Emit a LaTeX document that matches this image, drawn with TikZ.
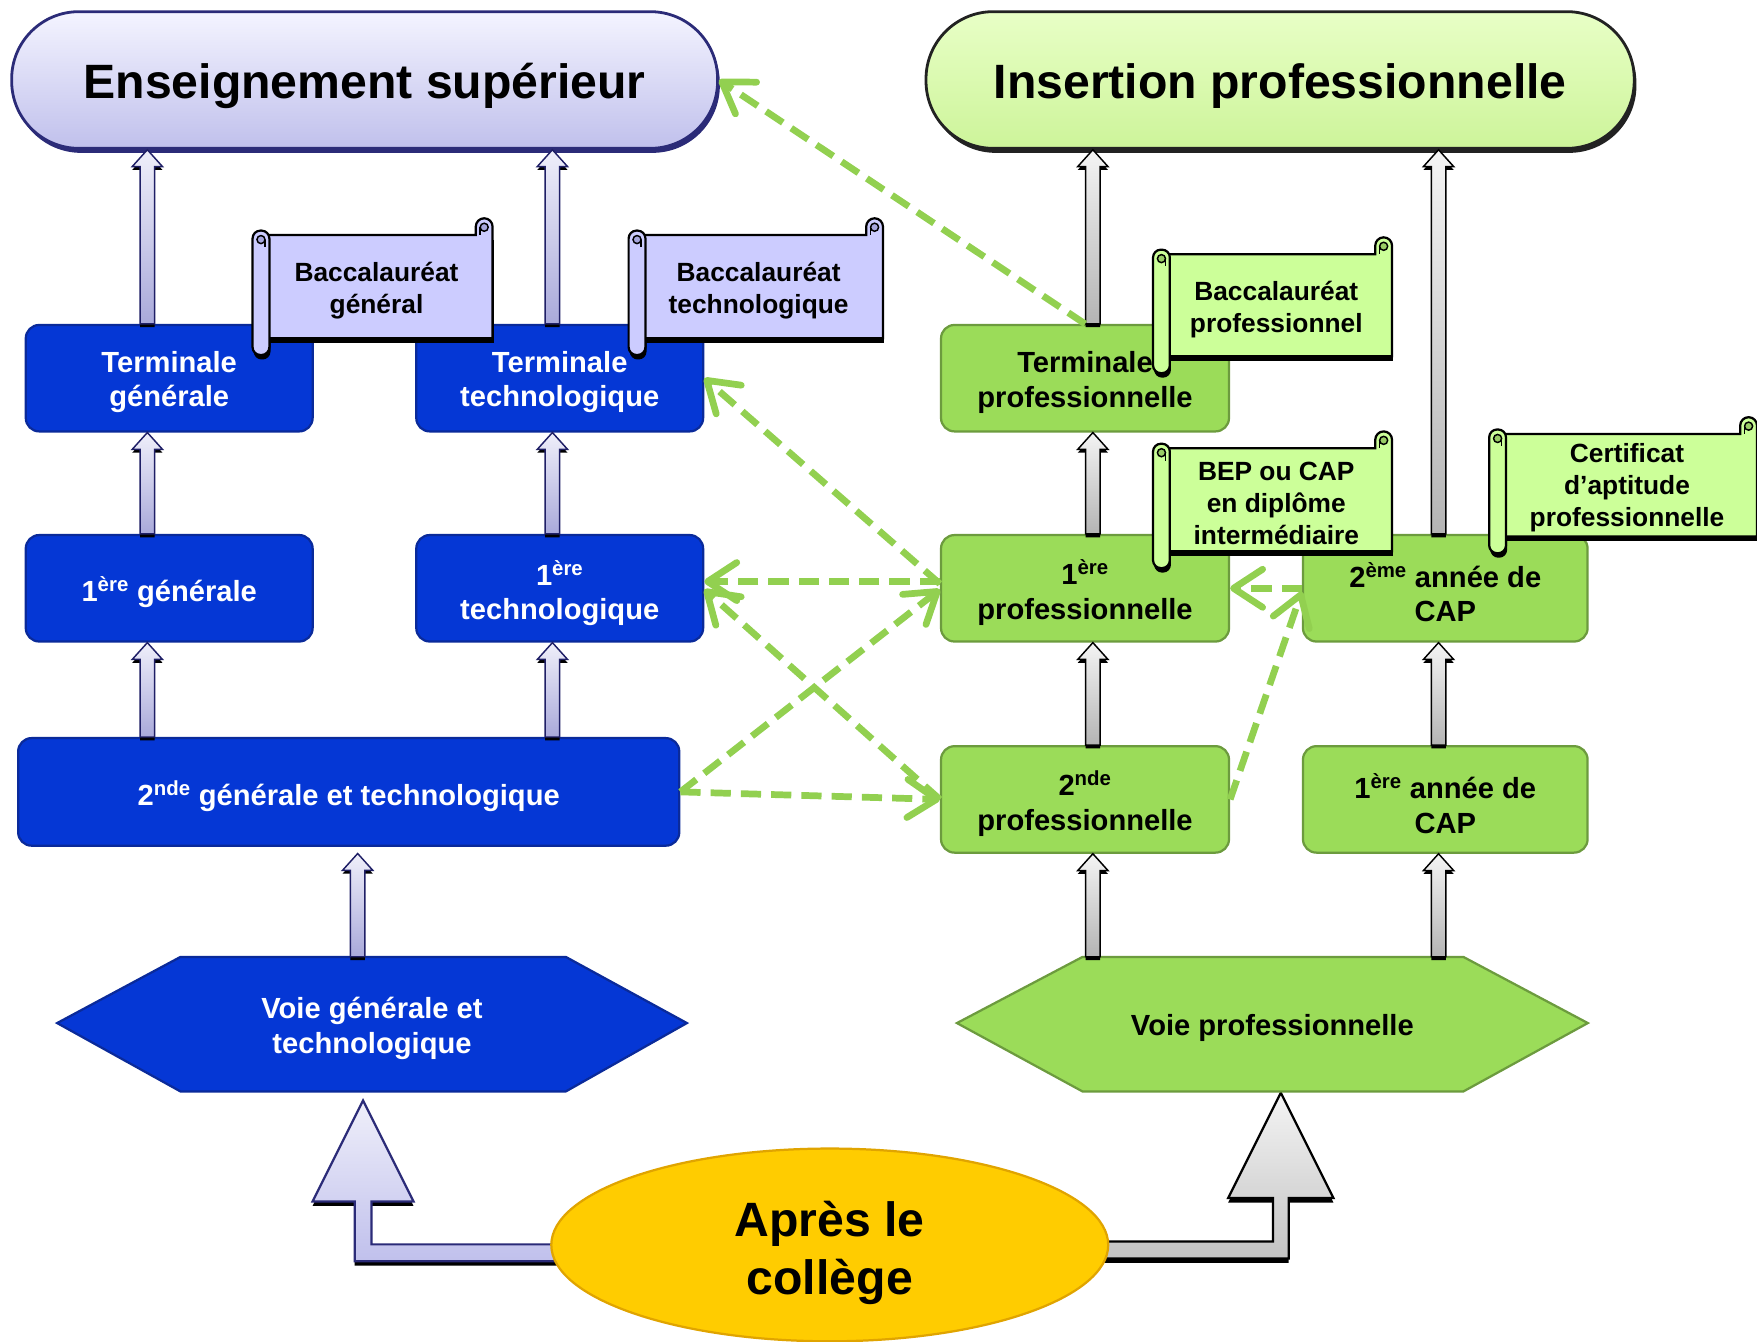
\documentclass[tikz,border=0pt]{standalone}
\usepackage{fontspec}
\setmainfont{Liberation Sans}
\usetikzlibrary{calc,arrows.meta,shapes.geometric,backgrounds}

\definecolor{boxblue}{HTML}{0537D5}
\definecolor{boxblueD}{HTML}{0A2A9A}
\definecolor{boxgreen}{HTML}{9BDC59}
\definecolor{boxgreenD}{HTML}{6C9B3E}
\definecolor{dashgreen}{HTML}{92D050}
\definecolor{scrLav}{HTML}{CCCCFF}
\definecolor{curlLav}{HTML}{A6A6DD}
\definecolor{scrGrn}{HTML}{CCFF99}
\definecolor{curlGrn}{HTML}{99CC66}
\definecolor{pillLT}{HTML}{F4F4FF}
\definecolor{pillLB}{HTML}{C0C0EC}
\definecolor{pillLD}{HTML}{2B2B78}
\definecolor{pillGT}{HTML}{E8FFC6}
\definecolor{pillGB}{HTML}{CDF49A}
\definecolor{pillGD}{HTML}{222222}
\definecolor{egg}{HTML}{FFCC00}
\definecolor{eggD}{HTML}{E0A400}
\definecolor{arrLT}{HTML}{EFEFFA}
\definecolor{arrLB}{HTML}{A9A9DA}
\definecolor{arrLD}{HTML}{1F1F66}
\definecolor{arrGT}{HTML}{F4F4F4}
\definecolor{arrGB}{HTML}{B4B4B4}

\newcommand\ttlfont{\fontsize{43pt}{52pt}\selectfont\bfseries}
\newcommand\bxfont{\fontsize{26pt}{31pt}\selectfont\bfseries}
\newcommand\scrlfont{\fontsize{23.5pt}{28.5pt}\selectfont\bfseries}
% lower one line of text inside its box, keeping the box size
\newcommand\dn[2][3.5pt]{\raisebox{-#1}[\height][\depth]{#2}}

% small vertical block arrow: #1 style, #2 start (x and y), #3 end (y only)
\newcommand\blkarrow[3]{%
  \fill[black] let \p1=#2, \p2=#3 in
    (\x1-6.5pt,\y1-3pt) -- (\x1-6.5pt,\y2-18pt) -- (\x1-13.5pt,\y2-18pt) -- (\x1,\y2-3pt)
    -- (\x1+13.5pt,\y2-18pt) -- (\x1+6.5pt,\y2-18pt) -- (\x1+6.5pt,\y1-3pt) -- cycle;
  \path[#1] let \p1=#2, \p2=#3 in
    (\x1-6.5pt,\y1) -- (\x1-6.5pt,\y2-15pt) -- (\x1-13.5pt,\y2-15pt) -- (\x1,\y2)
    -- (\x1+13.5pt,\y2-15pt) -- (\x1+6.5pt,\y2-15pt) -- (\x1+6.5pt,\y1) -- cycle;}

% horizontal scroll: #1 L, #2 T, #3 R, #4 B, #5 fill, #6 curl colour
\newcommand\scrollshape[6]{%
  \fill[black] (#1+9.5,#2+19) -- (#3+1,#2+19) -- (#3+1,#4-11) -- (#1+9.5,#4-11) -- cycle;
  \fill[black, rounded corners=7pt] (#1+1,#2+16) rectangle (#1+16,#4+4);
  \filldraw[fill=#5, draw=black, line width=2pt]
    (#1+7.5,#2+15) -- (#3-15,#2+15) -- (#3-15,#2+7.5)
    arc[start angle=180, end angle=0, radius=7.5pt] -- (#3,#4-15) -- (#1+7.5,#4-15) -- cycle;
  \filldraw[fill=#6, draw=black, line width=1.3pt] (#3-7.5,#2+8) circle[radius=3.6pt];
  \draw[black, line width=1.3pt] (#3-11.1,#2+8) -- (#3-11.1,#2+15);
  \filldraw[fill=#5, draw=black, line width=2pt, rounded corners=7pt] (#1,#2+11) rectangle (#1+15,#4);
  \filldraw[fill=#6, draw=black, line width=1.3pt] (#1+7.5,#2+19) circle[radius=3.6pt];
  \draw[black, line width=1.3pt] (#1+11.1,#2+19) -- (#1+11.1,#2+26);
}

\begin{document}
\begin{tikzpicture}[x=1pt,y=-1pt,
  bluebox/.style={rectangle, rounded corners=12pt, fill=boxblue, draw=boxblueD, line width=2pt,
    text=white, font=\bxfont, align=center, inner sep=0pt, minimum width=256pt, minimum height=95pt},
  greenbox/.style={bluebox, fill=boxgreen, draw=boxgreenD, text=black},
  pillL/.style={rectangle, rounded corners=60pt, minimum width=630pt, minimum height=122pt,
    top color=pillLT, bottom color=pillLB, draw=pillLD, line width=2.5pt, font=\ttlfont, inner sep=0pt},
  pillG/.style={pillL, top color=pillGT, bottom color=pillGB, draw=pillGD, minimum width=632pt},
  scrtext/.style={font=\scrlfont, align=center, inner sep=0pt, text=black, yshift=-3.5pt},
  hexnode/.style={minimum width=562pt, minimum height=120pt, font=\bxfont, align=center, inner sep=0pt},
  lavarr/.style={top color=arrLT, bottom color=arrLB, draw=arrLD, line width=1.3pt},
  grayarr/.style={top color=arrGT, bottom color=arrGB, draw=black, line width=1.3pt},
  garrow/.style={draw=dashgreen, line width=6pt, dash pattern=on 18pt off 9pt,
    -{Straight Barb[length=26pt, width=34pt, round]}},
]
\useasboundingbox (0,0) rectangle (1568,1197);

% ---- top pills
\fill[pillLD, rounded corners=60pt] (12.3,14.4) rectangle (642.4,136.4);
\node[pillL] (es) at (325.4,71.4) {\dn[5pt]{Enseignement supérieur}};
\fill[pillGD, rounded corners=60pt] (828.5,14.4) rectangle (1460.4,136.4);
\node[pillG] (ip) at (1142.4,71.4) {\dn[5pt]{Insertion professionnelle}};

% ---- blue column
\node[bluebox] (tg) at (151,337.5) {\dn{Terminale}\\\dn{générale}};
\node[bluebox] (tt) at (499.5,337.5) {\dn{Terminale}\\\dn{technologique}};
\node[bluebox] (1g) at (151,525) {\dn{1\textsuperscript{ère} générale}};
\node[bluebox] (1t) at (499.5,525) {\dn[5pt]{1\textsuperscript{ère}}\\\dn{technologique}};
\node[bluebox, minimum width=590pt, minimum height=96pt] (2g) at (311.2,706.7) {\dn{2\textsuperscript{nde} générale et technologique}};

% ---- green column
\node[greenbox, minimum width=257pt] (tp) at (968.3,337.5) {\dn{Terminale}\\\dn{professionnelle}};
\node[greenbox, minimum width=257pt] (1p) at (968.3,525) {\dn{1\textsuperscript{ère}}\\\dn{professionnelle}};
\node[greenbox, minimum width=257pt] (2p) at (968.3,713.4) {\dn{2\textsuperscript{nde}}\\\dn{professionnelle}};
\node[greenbox, minimum width=254pt] (2c) at (1289.8,525) {\dn{2\textsuperscript{ème} année de}\\\dn{CAP}};
\node[greenbox, minimum width=254pt] (1c) at (1289.8,713.4) {\dn{1\textsuperscript{ère} année de}\\\dn{CAP}};

% ---- hexagons
\filldraw[fill=boxblue, draw=boxblueD, line width=2pt]
  (51,913) -- (161,854) -- (505,854) -- (613,913) -- (505,974) -- (161,974) -- cycle;
\node[hexnode, text=white] (hexG) at (332,914) {\dn{Voie générale et}\\\dn{technologique}};
\filldraw[fill=boxgreen, draw=boxgreenD, line width=2pt]
  (854,913) -- (966,854) -- (1306,854) -- (1417,913) -- (1306,974) -- (966,974) -- cycle;
\node[hexnode, text=black] (hexP) at (1135.5,914) {\dn{Voie professionnelle}};

% ---- small block arrows (left)
\blkarrow{lavarr}{([xshift=-19.5pt]tg.north)}{(es.south)}
\blkarrow{lavarr}{([xshift=-6.5pt]tt.north)}{(es.south)}
\blkarrow{lavarr}{([xshift=-19.5pt]1g.north)}{(tg.south)}
\blkarrow{lavarr}{([xshift=-6.5pt]1t.north)}{(tt.south)}
\blkarrow{lavarr}{([xshift=-19.5pt]1g.south |- 2g.north)}{(1g.south)}
\blkarrow{lavarr}{([xshift=-6.5pt]1t.south |- 2g.north)}{(1t.south)}
\blkarrow{lavarr}{([xshift=8pt]2g.south |- hexG.north)}{([yshift=-6pt]2g.south)}

% ---- small block arrows (right)
\blkarrow{grayarr}{([xshift=7pt]tp.north)}{(ip.south)}
\blkarrow{grayarr}{([xshift=-6pt]2c.north)}{(ip.south)}
\blkarrow{grayarr}{([xshift=7pt]1p.north)}{(tp.south)}
\blkarrow{grayarr}{([xshift=7pt]2p.north)}{(1p.south)}
\blkarrow{grayarr}{([xshift=-6pt]1c.north)}{(2c.south)}
\blkarrow{grayarr}{([xshift=7pt]2p.south |- hexP.north)}{(2p.south)}
\blkarrow{grayarr}{([xshift=-6pt]1c.south |- hexP.north)}{(1c.south)}

% ---- scrolls
\scrollshape{225.4}{194.8}{439.6}{316.8}{scrLav}{curlLav}
\node[scrtext] (bg) at (336,256) {Baccalauréat\\général};
\scrollshape{561}{194.8}{788}{316.8}{scrLav}{curlLav}
\node[scrtext] (bt) at (677,256) {Baccalauréat\\technologique};
\scrollshape{1029}{211.8}{1242.3}{333}{scrGrn}{curlGrn}
\node[scrtext] (bp) at (1139,273) {Baccalauréat\\professionnel};
\scrollshape{1029}{385}{1242.3}{507}{scrGrn}{curlGrn}
\node[scrtext] (bep) at (1139,446) {BEP ou CAP\\en diplôme\\intermédiaire};
\scrollshape{1329}{372.3}{1568}{493.7}{scrGrn}{curlGrn}
\node[scrtext] (cap) at (1452,432) {Certificat\\d’aptitude\\professionnelle};

% ---- après le collège
\node[ellipse, minimum width=497pt, minimum height=172pt, fill=egg, draw=eggD, line width=2pt,
  font=\ttlfont, align=center, inner sep=0pt] (college) at (740.5,1111) {\dn[7pt]{Après le}\\\dn[7pt]{collège}};

\begin{pgfonlayer}{background}
\fill[black] let \p1=([xshift=40pt,yshift=-11pt]college.west), \p2=([xshift=-8pt,yshift=-12pt]hexG.south) in
  (\x1,\y1+7.5pt) -- (\x2+7.5pt,\y1+7.5pt) -- (\x2+7.5pt,\y2-90pt) -- (\x2+45pt,\y2-90pt) -- (\x2,\y2)
  -- (\x2-45pt,\y2-90pt) -- (\x2-7.5pt,\y2-90pt) -- (\x2-7.5pt,\y1-7.5pt) -- (\x1,\y1-7.5pt) -- cycle;
\path[top color=arrLT, bottom color=pillLB, draw=pillLD, line width=2pt]
  let \p1=([xshift=40pt,yshift=-7pt]college.west), \p2=([xshift=-8pt,yshift=-8pt]hexG.south) in
  (\x1,\y1+7.5pt) -- (\x2+7.5pt,\y1+7.5pt) -- (\x2+7.5pt,\y2-90pt) -- (\x2+45pt,\y2-90pt) -- (\x2,\y2)
  -- (\x2-45pt,\y2-90pt) -- (\x2-7.5pt,\y2-90pt) -- (\x2-7.5pt,\y1-7.5pt) -- (\x1,\y1-7.5pt) -- cycle;
\fill[black] let \p1=([xshift=-40pt,yshift=-8.5pt]college.east), \p2=([xshift=7.5pt,yshift=-5pt]hexP.south) in
  (\x1,\y1+7.5pt) -- (\x2-7pt,\y1+7.5pt) -- (\x2-7pt,\y2-94pt) -- (\x2-47pt,\y2-94pt) -- (\x2,\y2)
  -- (\x2+47pt,\y2-94pt) -- (\x2+7pt,\y2-94pt) -- (\x2+7pt,\y1-7.5pt) -- (\x1,\y1-7.5pt) -- cycle;
\path[top color=arrGT, bottom color=arrGB!80, draw=black, line width=2pt]
  let \p1=([xshift=-40pt,yshift=-4.5pt]college.east), \p2=([xshift=7.5pt,yshift=-1pt]hexP.south) in
  (\x1,\y1+7.5pt) -- (\x2-7pt,\y1+7.5pt) -- (\x2-7pt,\y2-94pt) -- (\x2-47pt,\y2-94pt) -- (\x2,\y2)
  -- (\x2+47pt,\y2-94pt) -- (\x2+7pt,\y2-94pt) -- (\x2+7pt,\y1-7.5pt) -- (\x1,\y1-7.5pt) -- cycle;
\end{pgfonlayer}

% ---- dashed green arrows
\draw[garrow] (tp.north) -- (es.east);
\draw[garrow] ([yshift=4pt]1p.west) -- (tt.east);
\draw[garrow] ([yshift=6pt]1p.west) -- ([yshift=6pt]1t.east);
\draw[garrow] (2p.west) -- ([yshift=-1pt]1t.east);
\draw[garrow] (2g.east) -- ([yshift=-1pt]1p.west);
\draw[garrow] (2g.east) -- (2p.west);
\draw[garrow] (2c.west) -- (1p.east);
\draw[garrow] (2p.east) -- ([yshift=-3pt]2c.west);
\end{tikzpicture}
\end{document}
